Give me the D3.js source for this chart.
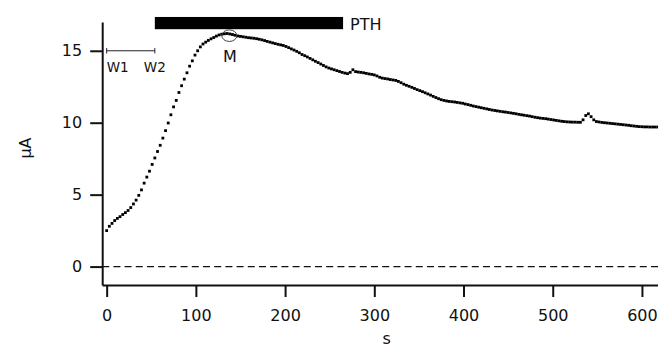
<!DOCTYPE html>
<html><head><meta charset="utf-8">
<script src="https://cdn.jsdelivr.net/npm/d3@7"></script>
<style>
html,body{margin:0;padding:0;background:#fff;}
svg{display:block;}
text{font-family:"DejaVu Sans",sans-serif;fill:#111;}
</style></head>
<body>
<svg id="chart" width="658" height="347"></svg>
<script>
// ---- data ----
const sampleInterval = 3; // seconds between samples
const currentValues = [
 2.5, 2.8, 3.0, 3.2, 3.35, 3.47, 3.62, 3.75, 3.9, 4.1,
 4.35, 4.62, 4.95, 5.33, 5.8, 6.22, 6.63, 7.1, 7.55, 8.0,
 8.43, 8.93, 9.45, 9.98, 10.55, 11.1, 11.55, 12.1, 12.57, 13.03,
 13.47, 13.93, 14.3, 14.7, 15.0, 15.27, 15.47, 15.6, 15.72, 15.83,
 15.92, 16.02, 16.1, 16.15, 16.18, 16.2, 16.17, 16.13, 16.08, 16.03,
 16.0, 15.97, 15.94, 15.91, 15.89, 15.87, 15.84, 15.8, 15.76, 15.71,
 15.65, 15.6, 15.55, 15.5, 15.45, 15.41, 15.37, 15.3, 15.22, 15.13,
 15.05, 14.96, 14.86, 14.74, 14.66, 14.57, 14.47, 14.37, 14.27, 14.18,
 14.08, 13.98, 13.88, 13.8, 13.74, 13.68, 13.62, 13.56, 13.5, 13.45,
 13.41, 13.5, 13.68, 13.55, 13.52, 13.5, 13.47, 13.43, 13.39, 13.36,
 13.32, 13.25, 13.16, 13.1, 13.07, 13.04, 13.0, 12.97, 12.94, 12.87,
 12.78, 12.68, 12.6, 12.53, 12.46, 12.38, 12.3, 12.23, 12.16, 12.08,
 12.0, 11.92, 11.83, 11.75, 11.67, 11.6, 11.55, 11.51, 11.48, 11.46,
 11.44, 11.41, 11.38, 11.35, 11.3, 11.26, 11.21, 11.16, 11.12, 11.08,
 11.04, 11.0, 10.96, 10.92, 10.88, 10.85, 10.82, 10.79, 10.76, 10.74,
 10.71, 10.68, 10.65, 10.62, 10.58, 10.55, 10.52, 10.49, 10.46, 10.42,
 10.38, 10.35, 10.32, 10.3, 10.28, 10.25, 10.22, 10.19, 10.16, 10.13,
 10.1, 10.08, 10.06, 10.05, 10.04, 10.04, 10.03, 10.03, 10.2, 10.5,
 10.62, 10.42, 10.2, 10.08, 10.05, 10.02, 10.0, 9.98, 9.96, 9.94,
 9.92, 9.9, 9.88, 9.86, 9.84, 9.82, 9.79, 9.77, 9.75, 9.73,
 9.72, 9.71, 9.71, 9.7, 9.7, 9.7, 9.7
];
const xTicks = [0, 100, 200, 300, 400, 500, 600];
const yTicks = [0, 5, 10, 15];
const xLabel = "s";
const yLabel = "\u00b5A";
const pthLabel = "PTH";
const pthStart = 54, pthEnd = 265;      // seconds
const pthBottom = 16.5, pthTop = 17.35; // µA
const w1Time = 0, w2Time = 54, wLevel = 15;
const mTime = 137.5, mLevel = 16.05;

// ---- scales ----
const svg = d3.select("#chart");
const x = d3.scaleLinear().domain([-5, 618]).range([102.2, 658]);
const y = d3.scaleLinear().domain([-1.28, 17.0]).range([285, 22]);

const data = currentValues.map((v, i) => ({t: i * sampleInterval, v}));

// zero dashed line
svg.append("line")
  .attr("x1", x(-5)).attr("x2", 658)
  .attr("y1", y(0)).attr("y2", y(0))
  .attr("stroke", "#111").attr("stroke-width", 1.4)
  .attr("stroke-dasharray", "7,4.2");

// axes
const gx = svg.append("g").attr("transform", `translate(0,${y(-1.28)})`)
  .call(d3.axisBottom(x).tickValues(xTicks).tickSize(12).tickSizeOuter(0).tickPadding(13));
const gy = svg.append("g").attr("transform", `translate(${x(-5)},0)`)
  .call(d3.axisLeft(y).tickValues(yTicks).tickSize(12).tickSizeOuter(0).tickPadding(8));
[gx, gy].forEach(g => {
  g.select(".domain").attr("stroke", "#111").attr("stroke-width", 2);
  g.selectAll(".tick line").attr("stroke", "#111").attr("stroke-width", 2);
  g.selectAll(".tick text").attr("font-size", 16).attr("font-family", "DejaVu Sans, sans-serif").attr("fill", "#111");
});

// axis titles
svg.append("text").attr("x", x(314)).attr("y", 344).attr("text-anchor", "middle")
  .attr("font-size", 16).text(xLabel);
svg.append("text").attr("transform", `translate(31,148) rotate(-90)`)
  .attr("text-anchor", "middle").attr("font-size", 16).text(yLabel);

// PTH bar
svg.append("rect")
  .attr("x", x(pthStart)).attr("width", x(pthEnd) - x(pthStart))
  .attr("y", y(pthTop)).attr("height", y(pthBottom) - y(pthTop))
  .attr("fill", "#000");
svg.append("text").attr("x", x(pthEnd) + 7).attr("y", 29.5)
  .attr("font-size", 16).text(pthLabel);

// W1-W2 bracket
const wy = y(wLevel);
svg.append("line").attr("x1", x(w1Time)).attr("x2", x(w2Time)).attr("y1", wy).attr("y2", wy)
  .attr("stroke", "#222").attr("stroke-width", 1);
[w1Time, w2Time].forEach(t => svg.append("line")
  .attr("x1", x(t)).attr("x2", x(t)).attr("y1", wy - 2.7).attr("y2", wy + 2.7)
  .attr("stroke", "#222").attr("stroke-width", 1));
svg.append("text").attr("x", x(w1Time)).attr("y", 71.5).attr("font-size", 13.5).text("W1");
svg.append("text").attr("x", x(w2Time)).attr("y", 71.5).attr("text-anchor", "middle").attr("font-size", 13.5).text("W2");

// data dots
svg.append("g").selectAll("rect").data(data).join("rect")
  .attr("x", d => x(d.t) - 1.4).attr("y", d => y(d.v) - 1.4)
  .attr("width", 2.8).attr("height", 2.8).attr("fill", "#000");

// M marker
svg.append("ellipse").attr("cx", x(mTime)).attr("cy", y(mLevel)).attr("rx", 7.5).attr("ry", 5.8)
  .attr("fill", "none").attr("stroke", "#444").attr("stroke-width", 1);
svg.append("text").attr("x", x(mTime) + 0.5).attr("y", 62).attr("text-anchor", "middle")
  .attr("font-size", 16).text("M");
</script>
</body></html>
